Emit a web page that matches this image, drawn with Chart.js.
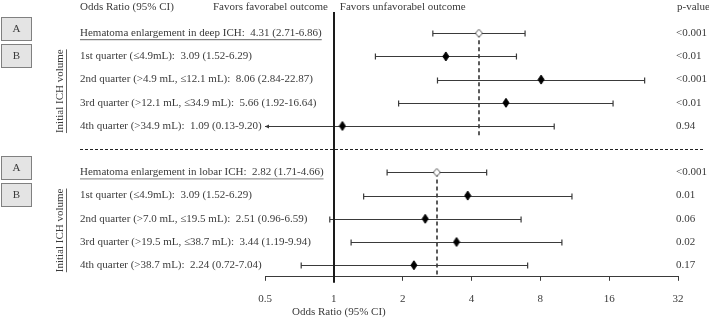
<!DOCTYPE html>
<html>
<head>
<meta charset="utf-8">
<script src="https://cdn.jsdelivr.net/npm/chart.js@4.4.1/dist/chart.umd.min.js"></script>
<style>
  html, body { margin: 0; padding: 0; background: #fff; }
  #wrap { width: 709px; height: 318px; position: relative; }
</style>
</head>
<body>
<div id="wrap"><canvas id="forest"></canvas></div>
<script>
const xTicks = [0.5, 1, 2, 4, 8, 16, 32];

const deepLabels = [
  "Hematoma enlargement in deep ICH:  4.31 (2.71-6.86)",
  "1st quarter (≤4.9mL):  3.09 (1.52-6.29)",
  "2nd quarter (>4.9 mL, ≤12.1 mL):  8.06 (2.84-22.87)",
  "3rd quarter (>12.1 mL, ≤34.9 mL):  5.66 (1.92-16.64)",
  "4th quarter (>34.9 mL):  1.09 (0.13-9.20)"
];
const deepRows = [0, 1, 2, 3, 4];
const deepOR = [4.31, 3.09, 8.06, 5.66, 1.09];
const deepLow = [2.71, 1.52, 2.84, 1.92, 0.13];
const deepHigh = [6.86, 6.29, 22.87, 16.64, 9.20];
const deepP = ["<0.001", "<0.01", "<0.001", "<0.01", "0.94"];

const lobarLabels = [
  "Hematoma enlargement in lobar ICH:  2.82 (1.71-4.66)",
  "1st quarter (≤4.9mL):  3.09 (1.52-6.29)",
  "2nd quarter (>7.0 mL, ≤19.5 mL):  2.51 (0.96-6.59)",
  "3rd quarter (>19.5 mL, ≤38.7 mL):  3.44 (1.19-9.94)",
  "4th quarter (>38.7 mL):  2.24 (0.72-7.04)"
];
const lobarRows = [6, 7, 8, 9, 10];
const lobarOR = [2.82, 3.85, 2.51, 3.44, 2.24];
const lobarLow = [1.71, 1.35, 0.96, 1.19, 0.72];
const lobarHigh = [4.66, 11.0, 6.59, 9.94, 7.04];
const lobarP = ["<0.001", "0.01", "0.06", "0.02", "0.17"];

const groups = [
  { labels: deepLabels, rows: deepRows, or: deepOR, low: deepLow, high: deepHigh, p: deepP },
  { labels: lobarLabels, rows: lobarRows, or: lobarOR, low: lobarLow, high: lobarHigh, p: lobarP }
];

const FONT = "'Liberation Serif', 'DejaVu Serif', serif";
const TEXT = '#3a3a3a';
const LINE = '#3a3a3a';

Chart.defaults.font.family = FONT;
Chart.defaults.color = TEXT;

function underline(ctx, x, y, w) {
  ctx.beginPath();
  ctx.moveTo(x, y);
  ctx.lineTo(x + w, y);
  ctx.stroke();
}

// diamond markers
function diamond(w, h, fill, stroke) {
  const c = document.createElement('canvas');
  c.width = w + 2;
  c.height = h + 2;
  const g = c.getContext('2d');
  g.beginPath();
  g.moveTo(c.width / 2, 1);
  g.lineTo(c.width - 1, c.height / 2);
  g.lineTo(c.width / 2, c.height - 1);
  g.lineTo(1, c.height / 2);
  g.closePath();
  g.fillStyle = fill;
  g.fill();
  g.strokeStyle = stroke;
  g.lineWidth = 1;
  g.stroke();
  return c;
}
const solidMark = diamond(6, 9, '#000', '#000');
const openMark = diamond(7, 8, '#fff', '#555');

const forestDraw = {
  id: 'forestDraw',
  beforeDatasetsDraw(chart) {
    const { ctx, chartArea, scales: { x, y } } = chart;
    ctx.save();

    // dashed separator between the two panels
    ctx.strokeStyle = '#222';
    ctx.lineWidth = 1;
    ctx.setLineDash([3, 2]);
    const sepY = Math.round(y.getPixelForValue(5)) + 0.5;
    underline(ctx, 80, sepY, 709 - 80 - 4);

    // dashed reference lines at pooled estimates
    ctx.strokeStyle = '#333';
    ctx.lineWidth = 1.6;
    ctx.setLineDash([4, 3]);
    groups.forEach(g => {
      const px = Math.round(x.getPixelForValue(g.or[0]));
      ctx.beginPath();
      ctx.moveTo(px, y.getPixelForValue(g.rows[0]));
      ctx.lineTo(px, y.getPixelForValue(g.rows[4] + 0.5));
      ctx.stroke();
    });
    ctx.setLineDash([]);

    // error bars
    ctx.strokeStyle = LINE;
    ctx.fillStyle = LINE;
    ctx.lineWidth = 1.2;
    groups.forEach(g => {
      g.rows.forEach((r, i) => {
        const py = Math.round(y.getPixelForValue(r)) + 0.5;
        const clipped = g.low[i] < x.min;
        const x0 = x.getPixelForValue(Math.max(g.low[i], x.min));
        const x1 = x.getPixelForValue(Math.min(g.high[i], x.max));
        ctx.beginPath();
        ctx.moveTo(x0, py);
        ctx.lineTo(x1, py);
        ctx.moveTo(x1, py - 3);
        ctx.lineTo(x1, py + 3);
        if (!clipped) {
          ctx.moveTo(x0, py - 3);
          ctx.lineTo(x0, py + 3);
        }
        ctx.stroke();
        if (clipped) {
          ctx.beginPath();
          ctx.moveTo(x0, py);
          ctx.lineTo(x0 + 4, py - 2);
          ctx.lineTo(x0 + 4, py + 2);
          ctx.closePath();
          ctx.fill();
        }
      });
    });

    // line of no effect
    const one = Math.round(x.getPixelForValue(1));
    ctx.strokeStyle = '#1a1a1a';
    ctx.lineWidth = 2;
    ctx.beginPath();
    ctx.moveTo(one, chartArea.top + 2);
    ctx.lineTo(one, chartArea.bottom + 6);
    ctx.stroke();
    ctx.restore();
  },
  afterDraw(chart) {
    const { ctx, scales: { x, y } } = chart;
    ctx.save();
    ctx.fillStyle = TEXT;
    ctx.strokeStyle = TEXT;
    ctx.lineWidth = 0.8;
    ctx.font = "11px " + FONT;
    ctx.textBaseline = 'middle';

    // header
    const one = x.getPixelForValue(1);
    ctx.textAlign = 'left';
    ctx.fillText('Odds Ratio (95% CI)', 80, 7);
    ctx.textAlign = 'right';
    ctx.fillText('Favors favorabel outcome', one - 6, 7);
    ctx.textAlign = 'left';
    ctx.fillText('Favors unfavorabel outcome', one + 6, 7);
    ctx.fillText('p-value', 677, 7);

    // x axis title
    ctx.textAlign = 'center';
    ctx.fillText('Odds Ratio (95% CI)', one + 5, 312);

    groups.forEach(g => {
      g.rows.forEach((r, i) => {
        const py = y.getPixelForValue(r);
        ctx.textAlign = 'left';
        ctx.fillText(g.labels[i], 80, py);
        if (i === 0) {
          underline(ctx, 80, py + 6.5, ctx.measureText(g.labels[i]).width);
        }
        ctx.fillText(g.p[i], 676, py);
      });

      // A / B boxes
      const top = y.getPixelForValue(g.rows[0]) - 16;
      ['A', 'B'].forEach((t, k) => {
        const by = Math.round(top + k * 27);
        ctx.fillStyle = '#e4e4e4';
        ctx.fillRect(1, by, 31, 24);
        ctx.strokeStyle = '#808080';
        ctx.lineWidth = 1;
        ctx.strokeRect(1.5, by + 0.5, 30, 23);
        ctx.fillStyle = TEXT;
        ctx.textAlign = 'center';
        ctx.fillText(t, 16.5, by + 12.5);
      });

      // rotated group title
      const cy = y.getPixelForValue(g.rows[2] + 0.5);
      ctx.save();
      ctx.translate(60, cy);
      ctx.rotate(-Math.PI / 2);
      ctx.textAlign = 'center';
      ctx.fillText('Initial ICH volume', 0, 0);
      const w = ctx.measureText('Initial ICH volume').width;
      ctx.strokeStyle = TEXT;
      ctx.lineWidth = 0.8;
      underline(ctx, -w / 2, 6.5, w);
      ctx.restore();
    });
    ctx.restore();
  }
};

const points = [];
const marks = [];
groups.forEach(g => {
  g.rows.forEach((r, i) => {
    points.push({ x: g.or[i], y: r });
    marks.push(i === 0 ? openMark : solidMark);
  });
});

new Chart(document.getElementById('forest').getContext('2d'), {
  type: 'scatter',
  data: {
    datasets: [{
      data: points,
      pointStyle: marks,
      radius: 5
    }]
  },
  options: {
    responsive: true,
    maintainAspectRatio: false,
    animation: false,
    layout: { padding: { left: 265, right: 31, top: 10, bottom: 0 } },
    plugins: { legend: { display: false }, tooltip: { enabled: false } },
    scales: {
      x: {
        type: 'logarithmic',
        min: 0.5,
        max: 32,
        afterBuildTicks: s => { s.ticks = xTicks.map(v => ({ value: v })); },
        ticks: { autoSkip: false, maxRotation: 0, padding: 12, color: TEXT, font: { size: 11 }, callback: v => String(v) },
        grid: { drawOnChartArea: false, drawTicks: true, tickLength: 4, color: LINE },
        border: { display: true, color: LINE, width: 1 },
        title: { display: false }
      },
      y: {
        type: 'linear',
        min: -1,
        max: 10.5,
        reverse: true,
        display: false
      }
    }
  },
  plugins: [forestDraw]
});
</script>
</body>
</html>
